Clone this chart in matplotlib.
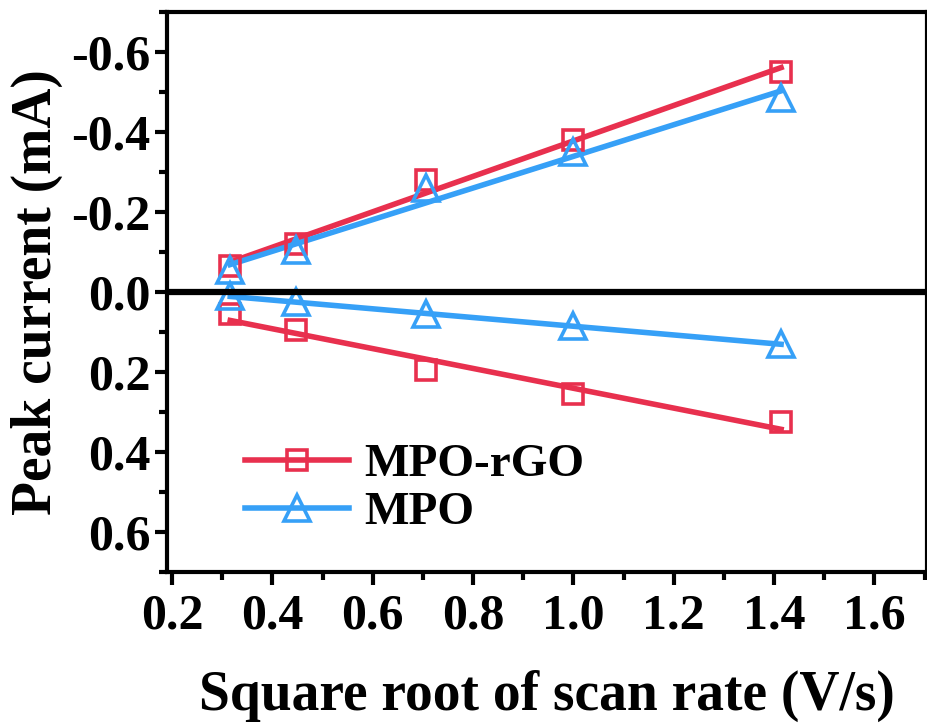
import numpy as np
import matplotlib
matplotlib.use('Agg')
import matplotlib.pyplot as plt

# sqrt of scan rate (V/s)^0.5
x = [0.316, 0.447, 0.707, 1.0, 1.414]

# anodic peaks (plotted as negative, axis inverted)
rgo_ox = [-0.065, -0.12, -0.28, -0.38, -0.55]
mpo_ox = [-0.055, -0.105, -0.26, -0.35, -0.485]
# cathodic peaks
rgo_red = [0.055, 0.095, 0.195, 0.255, 0.325]
mpo_red = [0.01, 0.025, 0.055, 0.085, 0.13]

xticks = [0.2, 0.4, 0.6, 0.8, 1.0, 1.2, 1.4, 1.6]
yticks = [-0.6, -0.4, -0.2, 0.0, 0.2, 0.4, 0.6]

red = '#E8304E'
blue = '#36A0F7'

plt.rcParams['font.family'] = ['Liberation Serif', 'DejaVu Serif']
plt.rcParams['font.weight'] = 'bold'

fig = plt.figure(figsize=(9.28, 7.28), dpi=100)
ax = fig.add_axes([0.18, 0.214, 0.819, 0.7695])

xs = np.array(x)
for ys, color, marker, ms in [(rgo_ox, red, 's', 15), (mpo_ox, blue, '^', 19),
                              (rgo_red, red, 's', 15), (mpo_red, blue, '^', 19)]:
    k, b = np.polyfit(xs, ys, 1)
    ax.plot(xs, k * xs + b, color=color, lw=4, zorder=3)
    ax.plot(xs, ys, linestyle='none', marker=marker, ms=ms, mfc='none',
            mec=color, mew=2.6, zorder=4)

# legend handles
ax.plot([], [], color=red, lw=4, marker='s', ms=15, mfc='none', mec=red,
        mew=2.6, label='MPO-rGO')
ax.plot([], [], color=blue, lw=4, marker='^', ms=19, mfc='none', mec=blue,
        mew=2.6, label='MPO')

ax.axhline(0, color='black', lw=4.5, zorder=5)

ax.set_xlim(0.19, 1.705)
ax.set_ylim(0.7, -0.7)
ax.set_xticks(xticks)
ax.set_yticks(yticks)
ax.set_xticks(np.arange(0.3, 1.71, 0.2), minor=True)
ax.set_yticks(np.arange(-0.7, 0.71, 0.2), minor=True)
ax.set_xticklabels([f'{v:.1f}' for v in xticks])
ax.set_yticklabels([f'{v:.1f}' for v in yticks])
ax.tick_params(which='major', direction='out', length=9, width=3,
               labelsize=36, pad=3)
ax.tick_params(axis='x', which='major', pad=6)
ax.tick_params(which='minor', direction='out', length=6, width=3)

for s in ax.spines.values():
    s.set_linewidth(3)

ax.set_xlabel('Square root of scan rate (V/s)', fontsize=40, fontweight='bold',
              labelpad=22)
ax.set_ylabel('Peak current (mA)', fontsize=40, fontweight='bold', labelpad=6)

ax.legend(loc='upper left', bbox_to_anchor=(0.103, 0.23), frameon=False,
          fontsize=34, handlelength=2.2, handletextpad=0.32, labelspacing=0.1,
          borderpad=0, borderaxespad=0)

fig.savefig('out.png', dpi=100)
